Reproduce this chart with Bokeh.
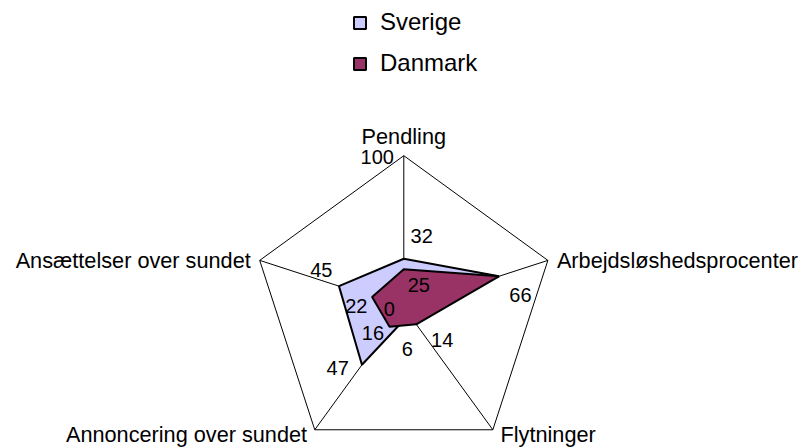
import math
from bokeh.plotting import figure
from bokeh.models import Range1d, ColumnDataSource, Legend, LegendItem
from bokeh.core.properties import value
from bokeh.embed import file_html
from bokeh.resources import INLINE

# ---- data ----
categories = ["Pendling", "Arbejdsløshedsprocenter", "Flytninger",
              "Annoncering over sundet", "Ansættelser over sundet"]
sverige = [32, 66, 6, 47, 45]
danmark = [25, 66, 14, 16, 22]
axis_min, axis_max = 0, 100
series_names = ["Sverige", "Danmark"]

# ---- style ----
FONT = "Liberation Sans"
W, H = 801, 447
cx_pg, cy_pg = 403.3, 306.7      # centre of radar in the picture
R_px = 151.5                     # radius of max value in px
s = R_px / axis_max              # px per value unit
angles = [math.radians(90 - 72 * i) for i in range(len(categories))]

def pt(v, a):
    return v * math.cos(a), v * math.sin(a)

def shift(x, y, dx, dy):
    # pixel offset (right, down) -> data units
    return x + dx / s, y - dy / s

p = figure(width=W, height=H, output_backend="svg", toolbar_location=None,
           x_range=Range1d((0 - cx_pg) / s, (W - cx_pg) / s),
           y_range=Range1d((cy_pg - H) / s, (cy_pg - 0) / s),
           min_border=0, outline_line_color=None,
           background_fill_color="white", border_fill_color="white")
p.axis.visible = False
p.grid.visible = False

# grid: outer pentagon + spokes
ox = [pt(axis_max, a)[0] for a in angles]
oy = [pt(axis_max, a)[1] for a in angles]
p.patch(ox, oy, fill_color=None, line_color="black", line_width=1)
for a in angles:
    x1, y1 = pt(axis_max, a)
    p.line([0, x1], [0, y1], line_color="black", line_width=1)

# series polygons
sx = [pt(v, a)[0] for v, a in zip(sverige, angles)]
sy = [pt(v, a)[1] for v, a in zip(sverige, angles)]
dx_ = [pt(v, a)[0] for v, a in zip(danmark, angles)]
dy_ = [pt(v, a)[1] for v, a in zip(danmark, angles)]
r_sv = p.patch(sx, sy, fill_color="#CCCCFF", line_color="black", line_width=2)
r_dk = p.patch(dx_, dy_, fill_color="#993366", line_color="black", line_width=2)

# category labels (offset right, down in px from outer vertex)
cat_off = [(0, -19.5, "center"), (9, 0, "left"), (7.7, 5.1, "left"),
           (-7.7, 5.1, "right"), (-9, 0, "right")]
for c, a, (ddx, ddy, al) in zip(categories, angles, cat_off):
    x0, y0 = pt(axis_max, a)
    x, y = shift(x0, y0, ddx, ddy)
    p.text([x], [y], text=[c], text_font=value(FONT), text_font_size="21.7px",
           text_align=al, text_baseline="middle", text_color="black")

# axis tick labels 0 and 100
x, y = shift(*pt(axis_max, angles[0]), -26.6, 1.1)
p.text([x], [y], text=[str(axis_max)], text_font=value(FONT), text_font_size="20px",
       text_align="center", text_baseline="middle")
x, y = shift(0, 0, -14.6, 2)
p.text([x], [y], text=[str(axis_min)], text_font=value(FONT), text_font_size="20px",
       text_align="center", text_baseline="middle")

# data labels
sv_off = [(17.9, -22.5), (21.6, 18.9), (-1.9, 34.9), (-24.2, 2.7), (-17.6, -16.6)]
dk_off = [(15, 15.9), (21.6, 18.9), (25.9, 15.8), (-16.6, 6), (-15.8, 9.3)]
for vals, offs, other in ((sverige, sv_off, danmark), (danmark, dk_off, None)):
    xs, ys, ts = [], [], []
    for i, (v, a, (ox_, oy_)) in enumerate(zip(vals, angles, offs)):
        # a label hidden under the other series' identical label is not repeated
        if other is not None and other[i] == v and dk_off[i] == offs[i]:
            continue
        x0, y0 = pt(v, a)
        x, y = shift(x0, y0, ox_, oy_)
        xs.append(x); ys.append(y); ts.append(str(v))
    src = ColumnDataSource(dict(x=xs, y=ys, t=ts))
    p.text("x", "y", text="t", source=src, text_font=value(FONT),
           text_font_size="20px", text_align="center", text_baseline="middle")

legend = Legend(items=[LegendItem(label=series_names[0], renderers=[r_sv]),
                       LegendItem(label=series_names[1], renderers=[r_dk])],
                location=(352, 370), orientation="vertical",
                glyph_width=15, glyph_height=15, label_text_font=FONT,
                label_text_font_size="24px", label_text_color="black",
                label_standoff=13, spacing=13, label_height=14,
                padding=0, margin=0, border_line_color=None,
                background_fill_alpha=0)
p.add_layout(legend)

open("out.html", "w").write(file_html(p, INLINE))
